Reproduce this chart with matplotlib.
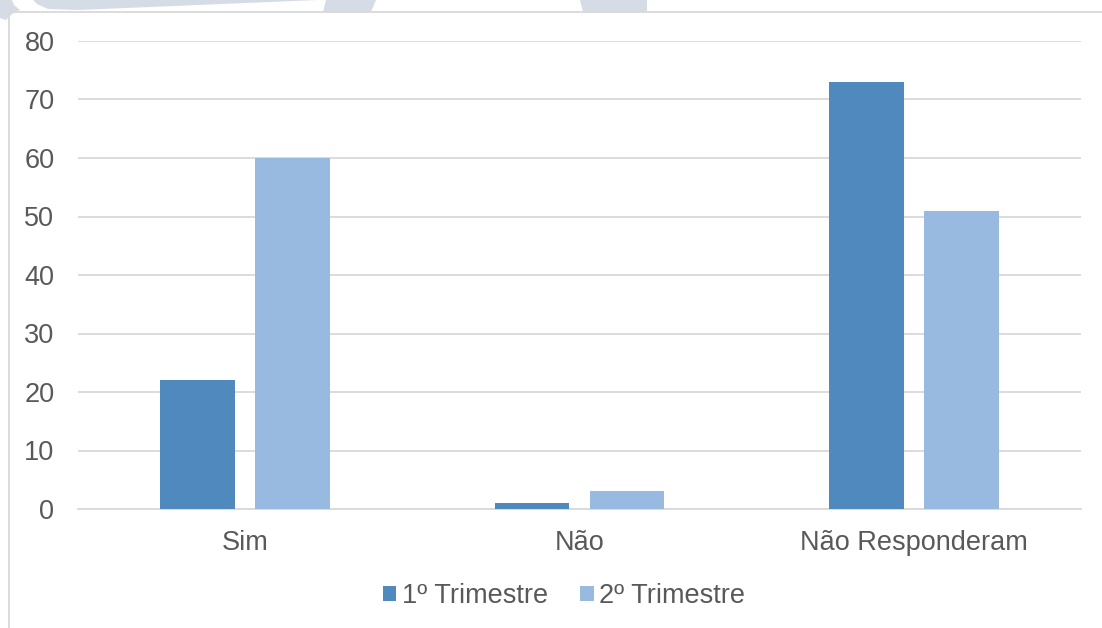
import matplotlib
matplotlib.use("Agg")
import matplotlib.pyplot as plt
from matplotlib.patches import Polygon
import numpy as np

plt.rcParams['font.family'] = ['Liberation Sans', 'DejaVu Sans']

categories = ["Sim", "Não", "Não Responderam"]
series_names = ["1º Trimestre", "2º Trimestre"]
trim1 = [22, 1, 73]
trim2 = [60, 3, 51]
y_ticks = [0, 10, 20, 30, 40, 50, 60, 70, 80]

colors = ["#4F89BD", "#98B9E0"]
text_color = "#595959"
grid_color = "#D9D9D9"
fs = 19.5

W, H = 1102, 628
fig = plt.figure(figsize=(W / 100, H / 100), dpi=100)
fig.patch.set_facecolor("white")


def px(points):
    # pixel coordinates (origin top-left) -> figure fraction
    return [(x / W, 1 - y / H) for x, y in points]


# light decorative shapes along the top edge
deco = "#D6DCE5"
shapes = [
    [(0, 0), (12, 0), (14, 5), (20, 10), (12, 14), (6, 20), (0, 18)],
    [(33, 0), (318, 0), (78, 10), (48, 9), (37, 4)],
    [(326, 0), (376, 0), (371, 12), (323, 12)],
    [(580, 0), (647, 0), (647, 12), (583, 12)],
]
for s in shapes:
    fig.patches.append(Polygon(px(s), closed=True, transform=fig.transFigure,
                               facecolor=deco, edgecolor="none", zorder=0))

# chart frame (top and left edges)
fig.add_artist(plt.Line2D([9 / W, 1], [1 - 12 / H, 1 - 12 / H],
                          transform=fig.transFigure, color=grid_color, lw=1.3))
fig.add_artist(plt.Line2D([9 / W, 9 / W], [0, 1 - 12 / H],
                          transform=fig.transFigure, color=grid_color, lw=1.3))

ax = fig.add_axes([78 / W, (H - 509) / H, (1081 - 78) / W, (509 - 41) / H])
ax.set_facecolor("none")

x = np.arange(len(categories))
bw = 0.224
off = 0.142
ax.bar(x - off, trim1, width=bw, color=colors[0], label=series_names[0], zorder=3)
ax.bar(x + off, trim2, width=bw, color=colors[1], label=series_names[1], zorder=3)

ax.set_xlim(-0.5, len(categories) - 0.5)
ax.set_ylim(0, 80)
ax.set_yticks(y_ticks)
ax.set_xticks(x)
ax.set_xticklabels(categories)
ax.grid(axis="y", color=grid_color, lw=1.3, zorder=0)
ax.set_axisbelow(True)
for sp in ["top", "right", "left"]:
    ax.spines[sp].set_visible(False)
ax.spines["bottom"].set_color(grid_color)
ax.spines["bottom"].set_linewidth(1.3)
ax.tick_params(axis="both", length=0, labelsize=fs, labelcolor=text_color)
ax.tick_params(axis="y", pad=17)
ax.tick_params(axis="x", pad=15)

leg = fig.legend(loc="center", bbox_to_anchor=(564 / W, 1 - 596 / H), ncol=2,
                 frameon=False, fontsize=fs, handlelength=0.5, handleheight=0.5,
                 handletextpad=0.2, columnspacing=1.2)
for t in leg.get_texts():
    t.set_color(text_color)

fig.savefig("out.png", dpi=100, facecolor="white")
